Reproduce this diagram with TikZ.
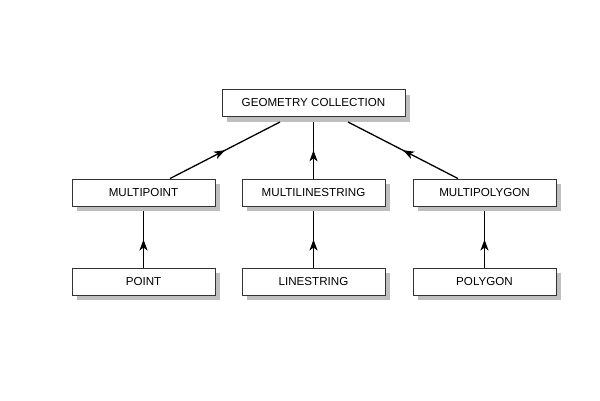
\documentclass[tikz,border=0pt]{standalone}
\usepackage{fontspec}
\setmainfont{Liberation Sans}
\usetikzlibrary{arrows.meta,decorations.markings,shadows}
\begin{document}
\begin{tikzpicture}[x=1pt,y=1pt,
  box/.style={draw=black!80,line width=0.9pt,fill=white,minimum width=143pt,minimum height=27pt,inner sep=0pt,font=\fontsize{11.6}{13}\selectfont,
    drop shadow={shadow xshift=5pt,shadow yshift=-5pt,fill=black!25,opacity=1}},
  conn/.style={line width=1.3pt,postaction={decorate},decoration={markings,mark=at position 0.5 with {\arrow{Stealth[length=11pt,width=8pt,inset=3pt]}}}}]
\useasboundingbox (0,0) rectangle (600,400);
\node[box,minimum width=183pt] (gc) at (313.5,297) {GEOMETRY COLLECTION};
\node[box] (mp) at (143.5,207.5) {MULTIPOINT};
\node[box] (ml) at (313.5,207.5) {MULTILINESTRING};
\node[box] (mg) at (484.5,207.5) {MULTIPOLYGON};
\node[box] (p) at (143.5,118.5) {POINT};
\node[box] (l) at (313.5,118.5) {LINESTRING};
\node[box] (g) at (484.5,118.5) {POLYGON};
\coordinate (gcl) at (280,278);
\coordinate (gcm) at (313.5,278);
\coordinate (gcr) at (348,278);
\draw[conn] (mp.north -| 170,0) -- (gcl);
\draw[conn] (ml.north) -- (gcm);
\draw[conn] (mg.north -| 458,0) -- (gcr);
\draw[conn] (p.north) -- ([yshift=-5pt]mp.south);
\draw[conn] (l.north) -- ([yshift=-5pt]ml.south);
\draw[conn] (g.north) -- ([yshift=-5pt]mg.south);
\end{tikzpicture}
\end{document}
